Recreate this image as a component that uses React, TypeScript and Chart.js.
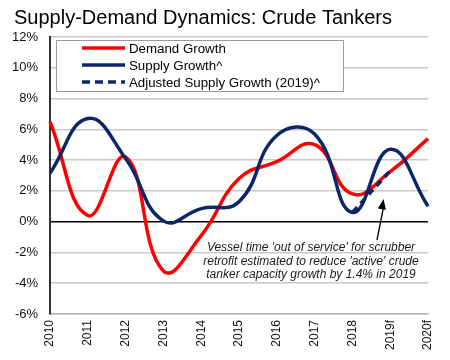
import React, { useEffect, useRef } from "react";
import { Chart, registerables } from "chart.js";

Chart.register(...registerables);

const categories = ["2010", "2011", "2012", "2013", "2014", "2015", "2016", "2017", "2018", "2019f", "2020f"];
const demandGrowth = [6.5, 0.4, 4.2, -3.2, -0.9, 2.8, 3.9, 5.0, 1.8, 3.25, 5.4];
const supplyGrowth = [3.15, 6.7, 4.1, 0.05, 0.85, 1.3, 5.6, 5.7, 0.6, 4.7, 1.0];
const adjustedSupplyGrowth = [null, null, null, null, null, null, null, null, 0.6, 3.3, null];
const legendLabels = ["Demand Growth", "Supply Growth^", "Adjusted Supply Growth (2019)^"];
const titleText = "Supply-Demand Dynamics: Crude Tankers";
const noteLines = [
  "Vessel time 'out of service' for scrubber",
  "retrofit estimated to reduce 'active' crude",
  "tanker capacity growth by 1.4% in 2019",
];

const RED = "#FF0000";
const NAVY = "#0C2769";
const FONT = "'Liberation Sans', Arial, sans-serif";

const overlayPlugin = {
  id: "overlay",
  afterDraw(chart: any) {
    const ctx = chart.ctx;
    ctx.save();
    // title
    ctx.fillStyle = "#000";
    ctx.font = `20px ${FONT}`;
    ctx.textAlign = "left";
    ctx.textBaseline = "alphabetic";
    ctx.fillText(titleText, 14, 24);

    // legend box
    const bx = 56, by = 40, bw = 287, bh = 51;
    ctx.fillStyle = "#fff";
    ctx.fillRect(bx, by, bw, bh);
    ctx.strokeStyle = "#9a9a9a";
    ctx.lineWidth = 1;
    ctx.strokeRect(bx + 0.5, by + 0.5, bw, bh);
    const rows = [48, 65, 82];
    const colors = [RED, NAVY, NAVY];
    ctx.font = `13.3px ${FONT}`;
    ctx.textBaseline = "middle";
    rows.forEach((y, i) => {
      ctx.beginPath();
      ctx.strokeStyle = colors[i];
      ctx.lineWidth = 3.5;
      ctx.setLineDash(i === 2 ? [8, 5] : []);
      ctx.moveTo(82, y);
      ctx.lineTo(125, y);
      ctx.stroke();
      ctx.setLineDash([]);
      ctx.fillStyle = "#000";
      ctx.fillText(legendLabels[i], 129, y + 1);
    });

    // annotation text
    ctx.font = `italic 12px ${FONT}`;
    ctx.fillStyle = "#1a1a1a";
    ctx.textAlign = "center";
    ctx.textBaseline = "middle";
    noteLines.forEach((t, i) => ctx.fillText(t, 311, 248 + i * 13.5));

    // arrow
    const x1 = 377, y1 = 240, x2 = 383.5, y2 = 199;
    ctx.strokeStyle = "#000";
    ctx.lineWidth = 1.3;
    ctx.beginPath();
    ctx.moveTo(x1, y1);
    ctx.lineTo(x2, y2 + 8);
    ctx.stroke();
    const ang = Math.atan2(y2 - y1, x2 - x1);
    ctx.fillStyle = "#000";
    ctx.beginPath();
    ctx.moveTo(x2, y2);
    ctx.lineTo(x2 - 11 * Math.cos(ang - 0.38), y2 - 11 * Math.sin(ang - 0.38));
    ctx.lineTo(x2 - 11 * Math.cos(ang + 0.38), y2 - 11 * Math.sin(ang + 0.38));
    ctx.closePath();
    ctx.fill();
    ctx.restore();
  },
};

export default function App() {
  const ref = useRef<HTMLCanvasElement>(null);
  useEffect(() => {
    if (!ref.current) return;
    const chart = new Chart(ref.current, {
      type: "line",
      data: {
        labels: categories,
        datasets: [
          {
            label: legendLabels[1],
            data: supplyGrowth,
            borderColor: NAVY,
            borderWidth: 3.5,
            pointRadius: 0,
            tension: 0.45,
            order: 0,
          },
          {
            label: legendLabels[2],
            data: adjustedSupplyGrowth,
            borderColor: NAVY,
            borderWidth: 3.5,
            borderDash: [7, 5],
            pointRadius: 0,
            tension: 0.45,
            order: 1,
          },
          {
            label: legendLabels[0],
            data: demandGrowth,
            borderColor: RED,
            borderWidth: 3.5,
            pointRadius: 0,
            tension: 0.45,
            order: 2,
          },
        ],
      },
      options: {
        animation: false,
        responsive: false,
        maintainAspectRatio: false,
        layout: { padding: { top: 37, right: 22, left: 0, bottom: 0 } },
        plugins: {
          legend: { display: false },
          title: { display: false },
          tooltip: { enabled: false },
        },
        scales: {
          x: {
            type: "category",
            offset: false,
            afterFit: (s: any) => {
              s.height = 46;
            },
            grid: { display: false, drawTicks: false },
            border: { display: true, color: "#b5b5b5", width: 1.5 },
            ticks: {
              minRotation: 90,
              maxRotation: 90,
              padding: 6,
              color: "#111",
              font: { family: FONT, size: 12 },
              autoSkip: false,
            },
          },
          y: {
            min: -6,
            max: 12,
            afterFit: (s: any) => {
              s.width = 50;
            },
            ticks: {
              stepSize: 2,
              padding: 12,
              color: "#111",
              font: { family: FONT, size: 13 },
              callback: (v: any) => `${v}%`,
            },
            grid: {
              drawTicks: false,
              color: (c: any) => (c.tick && c.tick.value === 0 ? "#000" : "#c9c9c9"),
              lineWidth: 1.5,
            },
            border: { display: true, color: "#333", width: 2 },
          },
        },
      },
      plugins: [overlayPlugin],
    });
    return () => chart.destroy();
  }, []);
  return (
    <div style={{ position: "fixed", left: 0, top: 0, width: 450, height: 360, background: "#fff" }}>
      <canvas ref={ref} width={450} height={360} style={{ width: 450, height: 360 }} />
    </div>
  );
}
